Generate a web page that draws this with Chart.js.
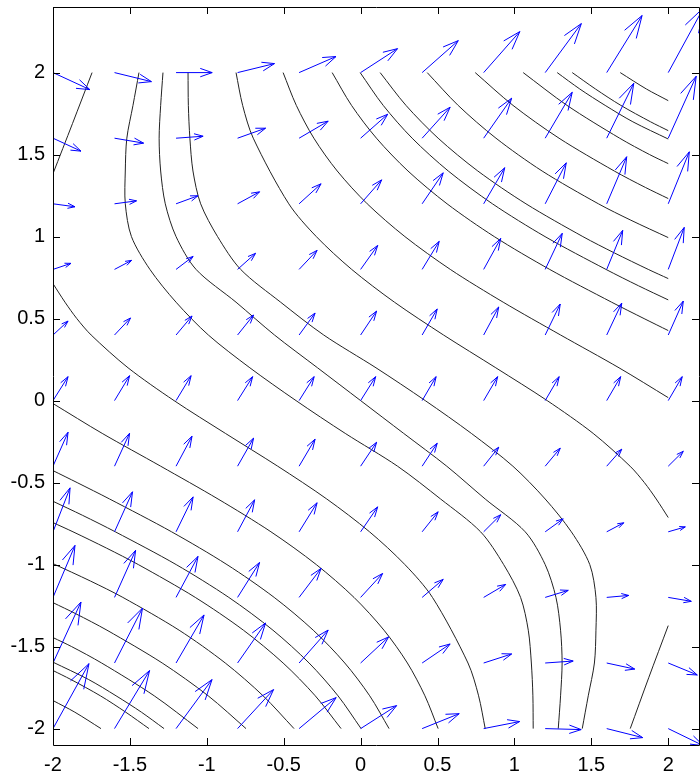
<!DOCTYPE html>
<html lang="en">
<head>
<meta charset="UTF-8">
<title>Contour lines and gradient arrows</title>
<script src="https://cdn.jsdelivr.net/npm/chart.js"></script>
<style>
  html, body { margin: 0; padding: 0; background: #fff; overflow: hidden; }
  #wrap { width: 700px; height: 782px; }
</style>
</head>
<body>
<div id="wrap"><canvas id="fieldChart" width="700" height="782"></canvas></div>
<script>
// arrow grid, rows from top (y = 2) to bottom (y = -2)
const gridX = [-2, -1.6, -1.2, -0.8, -0.4, 0, 0.4, 0.8, 1.2, 1.6, 2];
const gridY = [2, 1.6, 1.2, 0.8, 0.4, 0, -0.4, -0.8, -1.2, -1.6, -2];

// drawn arrow components (data units), one row per gridY
const arrowU = [
  [0.24, 0.24, 0.235, 0.24, 0.24, 0.24, 0.235, 0.235, 0.235, 0.23, 0.23],
  [0.182, 0.189, 0.176, 0.182, 0.189, 0.176, 0.182, 0.182, 0.176, 0.176, 0.182],
  [0.143, 0.143, 0.143, 0.143, 0.143, 0.137, 0.137, 0.137, 0.137, 0.13, 0.137],
  [0.117, 0.111, 0.111, 0.117, 0.117, 0.111, 0.111, 0.111, 0.111, 0.104, 0.104],
  [0.098, 0.104, 0.104, 0.104, 0.104, 0.104, 0.098, 0.098, 0.098, 0.098, 0.098],
  [0.098, 0.098, 0.098, 0.098, 0.098, 0.098, 0.091, 0.091, 0.091, 0.091, 0.091],
  [0.098, 0.098, 0.104, 0.104, 0.104, 0.104, 0.098, 0.098, 0.098, 0.098, 0.098],
  [0.111, 0.117, 0.111, 0.111, 0.117, 0.111, 0.104, 0.111, 0.117, 0.111, 0.111],
  [0.143, 0.137, 0.143, 0.143, 0.143, 0.143, 0.137, 0.143, 0.15, 0.143, 0.15],
  [0.182, 0.182, 0.182, 0.182, 0.189, 0.182, 0.182, 0.182, 0.182, 0.182, 0.189],
  [0.234, 0.228, 0.234, 0.234, 0.241, 0.234, 0.241, 0.234, 0.234, 0.234, 0.228]
];
const arrowV = [
  [-0.104, -0.055, 0, 0.055, 0.098, 0.146, 0.195, 0.25, 0.299, 0.348, 0.396],
  [-0.079, -0.03, 0.012, 0.061, 0.104, 0.146, 0.189, 0.244, 0.28, 0.335, 0.378],
  [-0.018, 0.018, 0.049, 0.073, 0.122, 0.146, 0.189, 0.22, 0.25, 0.287, 0.317],
  [0.037, 0.055, 0.079, 0.098, 0.116, 0.146, 0.171, 0.189, 0.22, 0.238, 0.256],
  [0.085, 0.104, 0.116, 0.122, 0.134, 0.146, 0.159, 0.171, 0.189, 0.195, 0.207],
  [0.146, 0.152, 0.152, 0.146, 0.146, 0.146, 0.146, 0.146, 0.146, 0.146, 0.146],
  [0.207, 0.201, 0.183, 0.171, 0.165, 0.146, 0.14, 0.116, 0.11, 0.104, 0.091],
  [0.268, 0.244, 0.213, 0.195, 0.177, 0.152, 0.122, 0.104, 0.079, 0.055, 0.03],
  [0.317, 0.287, 0.25, 0.213, 0.177, 0.146, 0.11, 0.079, 0.043, 0.012, -0.024],
  [0.372, 0.335, 0.293, 0.244, 0.201, 0.159, 0.116, 0.055, 0.012, -0.037, -0.073],
  [0.396, 0.354, 0.299, 0.238, 0.189, 0.14, 0.091, 0.043, -0.006, -0.055, -0.104]
];

// contour lines as [x, y] points
const contourLines = [
  // top edge to left edge
  [[-1.746, 2], [-1.873, 1.69], [-2, 1.384]],
  // top edge to right edge
  [[1.688, 2], [1.858, 1.9], [2, 1.829]],
  [[1.376, 2], [1.527, 1.9], [1.692, 1.8], [1.885, 1.7], [2, 1.646]],
  [[1.278, 2], [1.425, 1.9], [1.59, 1.8], [1.77, 1.7], [2, 1.595]],
  [[1.057, 2], [1.342, 1.8], [1.684, 1.6], [1.879, 1.5], [2, 1.445]],
  [[0.745, 2], [0.991, 1.8], [1.29, 1.6], [1.649, 1.4], [1.851, 1.3], [2, 1.232]],
  [[0.433, 2], [0.634, 1.8], [0.88, 1.6], [1.18, 1.4], [1.546, 1.2], [1.757, 1.1], [2, 0.994]],
  [[0.127, 2], [0.295, 1.8], [0.504, 1.6], [0.762, 1.4], [1.075, 1.2], [1.445, 1.0], [1.651, 0.9], [1.87, 0.8], [2, 0.744]],
  [[-0.003, 2], [0.147, 1.8], [0.335, 1.6], [0.57, 1.4], [0.857, 1.2], [1.199, 1.0], [1.595, 0.8], [1.807, 0.7], [2, 0.614]],
  [[-0.185, 2], [-0.059, 1.8], [0.103, 1.6], [0.308, 1.4], [0.562, 1.2], [0.869, 1.0], [1.229, 0.8], [1.632, 0.6], [1.843, 0.5], [2, 0.427]],
  [[-0.504, 2], [-0.418, 1.8], [-0.304, 1.6], [-0.152, 1.4], [0.043, 1.2], [0.288, 1.0], [0.583, 0.8], [0.927, 0.6], [1.3, 0.4], [1.68, 0.2], [2, 0.018]],
  [[-0.81, 2], [-0.767, 1.8], [-0.698, 1.6], [-0.467, 1.2], [-0.288, 1.0], [-0.058, 0.8], [0.22, 0.6], [0.539, 0.4], [0.879, 0.2], [1.213, 0], [1.512, -0.2], [1.752, -0.4], [1.845, -0.5], [1.922, -0.6], [2, -0.713]],
  // top edge to bottom edge
  [[-1.441, 2], [-1.48, 1.8], [-1.52, 1.6], [-1.53, 1.4], [-1.53, 1.2], [-1.49, 1.0], [-1.37, 0.8], [-1.2, 0.6], [-0.99, 0.4], [-0.72, 0.2], [-0.42, 0], [-0.1, -0.2], [0.24, -0.4], [0.52, -0.6], [0.78, -0.8], [0.93, -1.0], [1.04, -1.2], [1.09, -1.4], [1.11, -1.6], [1.12, -1.8], [1.122, -2]],
  [[-1.285, 2], [-1.3, 1.8], [-1.31, 1.6], [-1.3, 1.4], [-1.27, 1.2], [-1.2, 1.0], [-1.07, 0.8], [-0.81, 0.6], [-0.56, 0.4], [-0.28, 0.2], [0, 0], [0.28, -0.2], [0.56, -0.4], [0.81, -0.6], [1.07, -0.8], [1.2, -1.0], [1.27, -1.2], [1.3, -1.4], [1.31, -1.6], [1.3, -1.8], [1.285, -2]],
  [[-1.122, 2], [-1.12, 1.8], [-1.11, 1.6], [-1.09, 1.4], [-1.04, 1.2], [-0.93, 1.0], [-0.78, 0.8], [-0.52, 0.6], [-0.24, 0.4], [0.1, 0.2], [0.42, 0], [0.72, -0.2], [0.99, -0.4], [1.2, -0.6], [1.37, -0.8], [1.49, -1.0], [1.53, -1.2], [1.53, -1.4], [1.52, -1.6], [1.48, -1.8], [1.441, -2]],
  // right edge to bottom edge
  [[2, -1.372], [1.873, -1.69], [1.753, -2]],
  // left edge to bottom edge
  [[-2, 0.713], [-1.922, 0.6], [-1.845, 0.5], [-1.752, 0.4], [-1.512, 0.2], [-1.213, 0], [-0.879, -0.2], [-0.539, -0.4], [-0.22, -0.6], [0.058, -0.8], [0.288, -1.0], [0.467, -1.2], [0.698, -1.6], [0.767, -1.8], [0.81, -2]],
  [[-2, -0.018], [-1.68, -0.2], [-1.3, -0.4], [-0.927, -0.6], [-0.583, -0.8], [-0.288, -1.0], [-0.043, -1.2], [0.152, -1.4], [0.304, -1.6], [0.418, -1.8], [0.504, -2]],
  [[-2, -0.427], [-1.843, -0.5], [-1.632, -0.6], [-1.229, -0.8], [-0.869, -1.0], [-0.562, -1.2], [-0.308, -1.4], [-0.103, -1.6], [0.059, -1.8], [0.185, -2]],
  [[-2, -0.614], [-1.807, -0.7], [-1.595, -0.8], [-1.199, -1.0], [-0.857, -1.2], [-0.57, -1.4], [-0.335, -1.6], [-0.147, -1.8], [0.003, -2]],
  [[-2, -0.744], [-1.87, -0.8], [-1.651, -0.9], [-1.445, -1.0], [-1.075, -1.2], [-0.762, -1.4], [-0.504, -1.6], [-0.295, -1.8], [-0.127, -2]],
  [[-2, -0.994], [-1.757, -1.1], [-1.546, -1.2], [-1.18, -1.4], [-0.88, -1.6], [-0.634, -1.8], [-0.433, -2]],
  [[-2, -1.232], [-1.851, -1.3], [-1.649, -1.4], [-1.29, -1.6], [-0.991, -1.8], [-0.745, -2]],
  [[-2, -1.445], [-1.879, -1.5], [-1.684, -1.6], [-1.342, -1.8], [-1.057, -2]],
  [[-2, -1.595], [-1.77, -1.7], [-1.59, -1.8], [-1.425, -1.9], [-1.278, -2]],
  [[-2, -1.646], [-1.885, -1.7], [-1.692, -1.8], [-1.527, -1.9], [-1.376, -2]],
  [[-2, -1.829], [-1.858, -1.9], [-1.688, -2]]
];

const xTicks = [-2, -1.5, -1, -0.5, 0, 0.5, 1, 1.5, 2];
const yTicks = [-2, -1.5, -1, -0.5, 0, 0.5, 1, 1.5, 2];

// quiver style arrows: shaft + two barbs
const headLen = 0.33, headWidth = 0.33;
const shafts = [];
const heads = [];
const gap = { x: null, y: null };
gridY.forEach((y0, r) => {
  gridX.forEach((x0, c) => {
    const u = arrowU[r][c];
    const v = arrowV[r][c];
    const tx = x0 + u, ty = y0 + v;
    shafts.push({ x: x0, y: y0 }, { x: tx, y: ty }, gap);
    heads.push(
      { x: tx - headLen * (u + headWidth * v), y: ty - headLen * (v - headWidth * u) },
      { x: tx, y: ty },
      { x: tx - headLen * (u - headWidth * v), y: ty - headLen * (v + headWidth * u) },
      gap
    );
  });
});

const arrowStyle = {
  showLine: true, pointRadius: 0, borderWidth: 1,
  borderColor: '#0000ff', tension: 0, spanGaps: false
};
const datasets = [
  Object.assign({ data: shafts }, arrowStyle),
  Object.assign({ data: heads }, arrowStyle)
];
contourLines.forEach(line => {
  datasets.push({
    data: line.map(p => ({ x: p[0], y: p[1] })),
    showLine: true, pointRadius: 0, borderWidth: 1,
    borderColor: '#222', tension: 0.3
  });
});

// box with inward ticks on all four sides
const boxTicks = {
  id: 'boxTicks',
  afterDatasetsDraw(chart) {
    const { ctx, chartArea: a, scales } = chart;
    const len = 7;
    ctx.save();
    ctx.strokeStyle = '#000';
    ctx.lineWidth = 1;
    ctx.beginPath();
    ctx.rect(a.left + 0.5, a.top + 0.5, a.right - a.left, a.bottom - a.top);
    scales.x.ticks.forEach(t => {
      const px = Math.round(scales.x.getPixelForValue(t.value)) + 0.5;
      ctx.moveTo(px, a.bottom); ctx.lineTo(px, a.bottom - len);
      ctx.moveTo(px, a.top); ctx.lineTo(px, a.top + len);
    });
    scales.y.ticks.forEach(t => {
      const py = Math.round(scales.y.getPixelForValue(t.value)) + 0.5;
      ctx.moveTo(a.left, py); ctx.lineTo(a.left + len, py);
      ctx.moveTo(a.right, py); ctx.lineTo(a.right - len, py);
    });
    ctx.stroke();
    ctx.restore();
  }
};

const tickFont = { family: "'Liberation Sans', Arial, sans-serif", size: 20 };

new Chart(document.getElementById('fieldChart'), {
  type: 'scatter',
  data: { datasets: datasets },
  options: {
    responsive: false,
    animation: false,
    devicePixelRatio: 1,
    layout: { padding: { top: 7, right: 1, left: 0, bottom: 0 } },
    plugins: { legend: { display: false }, tooltip: { enabled: false } },
    scales: {
      x: {
        type: 'linear', min: -2, max: 2.2,
        grid: { display: false, drawTicks: false },
        border: { display: false },
        afterBuildTicks: s => { s.ticks = xTicks.map(v => ({ value: v })); },
        afterFit: s => { s.height = 37; s.paddingLeft = 0; s.paddingRight = 0; },
        ticks: { font: tickFont, color: '#000', padding: 8, maxRotation: 0, autoSkip: false,
                 callback: v => String(v) }
      },
      y: {
        type: 'linear', min: -2.1, max: 2.4,
        grid: { display: false, drawTicks: false },
        border: { display: false },
        afterBuildTicks: s => { s.ticks = yTicks.map(v => ({ value: v })); },
        afterFit: s => { s.width = 53; s.paddingTop = 0; s.paddingBottom = 0; },
        ticks: { font: tickFont, color: '#000', padding: 8, autoSkip: false,
                 callback: v => String(v) }
      }
    }
  },
  plugins: [boxTicks]
});
</script>
</body>
</html>
